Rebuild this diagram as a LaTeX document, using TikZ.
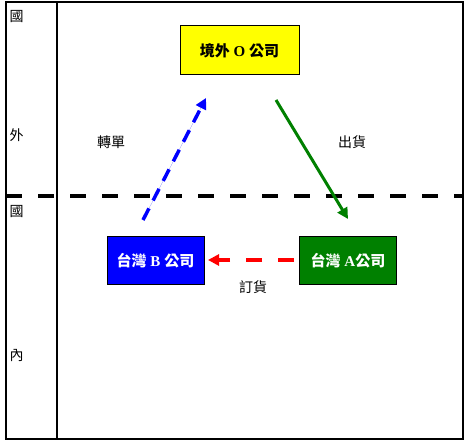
\documentclass[tikz,border=0pt]{standalone}
\usepackage{fontspec}
\setmainfont{Liberation Serif}
\newfontfamily\cjk{Noto Sans CJK TC}
\usetikzlibrary{arrows.meta}
\definecolor{boxyellow}{RGB}{255,255,0}
\definecolor{boxblue}{RGB}{0,0,255}
\definecolor{boxgreen}{RGB}{0,128,0}
\definecolor{arrred}{RGB}{255,0,0}
\newcommand{\zh}[1]{{\cjk #1}}
\begin{document}
\begin{tikzpicture}[x=1pt,y=-1pt,
  frame/.style={draw=black,line width=1.2pt},
  company/.style={draw=black,line width=1pt,minimum width=97pt,minimum height=48pt,inner sep=0pt,font=\bfseries\fontsize{15}{17}\selectfont},
  lbl/.style={font=\cjk\fontsize{14}{16}\selectfont,inner sep=0pt},
  arr/.style={-{Triangle[length=11pt,width=11pt]},line width=3.5pt}
]
\useasboundingbox (0,0) rectangle (469,443);
\draw[frame] (6,2) rectangle (463,439);
\draw[frame] (57,2) -- (57,439);
\draw[line width=3.5pt,dash pattern=on 16pt off 16pt] (6,196) -- (463,196);

\node[lbl] (g1) at (16.5,17) {國};
\node[lbl] (w) at (16.5,135) {外};
\node[lbl] (g2) at (16.5,212) {國};
\node[lbl] (n) at (16.5,355) {內};

\node[company,fill=boxyellow,minimum width=119pt,minimum height=49pt] (O) at (239.5,50.5) {\zh{境外} O \zh{公司}};
\node[company,fill=boxblue,text=white] (B) at (155.5,261) {\zh{台灣} B \zh{公司}};
\node[company,fill=boxgreen,text=white] (A) at (348,261) {\zh{台灣} A\zh{公司}};

\coordinate (bs) at (143,220);
\coordinate (be) at (206,98);
\draw[arr,draw=boxblue,fill=boxblue,dash pattern=on 13pt off 9pt] (bs) -- (be);
\coordinate (gs) at (276,100);
\coordinate (ge) at (348,219);
\draw[arr,draw=boxgreen,line width=3pt] (gs) -- (ge);
\coordinate (rs) at (294,260);
\coordinate (re) at (208,260);
\draw[arr,draw=arrred,dash pattern=on 16pt off 16pt] (rs) -- (re);

\node[lbl] (t1) at (111,142) {轉單};
\node[lbl] (t2) at (352,142) {出貨};
\node[lbl] (t3) at (253,287) {訂貨};
\end{tikzpicture}
\end{document}
